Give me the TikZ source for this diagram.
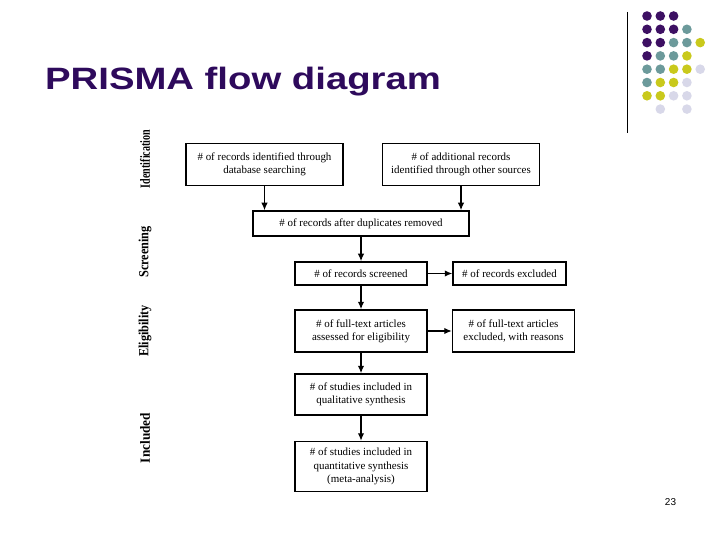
\documentclass[tikz,border=0pt]{standalone}
\usepackage{fontspec}
\setmainfont{Liberation Serif}
\newfontfamily\arialfont{Liberation Sans}
\usetikzlibrary{arrows.meta}
\definecolor{titlecol}{HTML}{2E0A5C}
\definecolor{dotP}{HTML}{3D1063}
\definecolor{dotT}{HTML}{6C9A9B}
\definecolor{dotY}{HTML}{C9C91C}
\definecolor{dotL}{HTML}{D8D8E9}
\tikzset{
  flowbox/.style={draw=black, line width=1.5bp, inner sep=0pt, align=center,
    font=\fontsize{11}{13.3}\selectfont},
  arr/.style={draw=black, line width=1.3bp, -{Latex[length=7.5bp,width=6.5bp]}},
  sidelabel/.style={rotate=90, inner sep=0pt, font=\fontsize{10.4}{12}\selectfont\bfseries},
  dot/.style={circle, inner sep=0pt, minimum size=9.6bp},
}
\begin{document}
\begin{tikzpicture}[x=1bp,y=-1bp]
\useasboundingbox (0,0) rectangle (720,540);
\fill[white] (0,0) rectangle (720,540);

% title
\node[anchor=base west, inner sep=0pt, text=titlecol] (title) at (45,90)
  {\scalebox{1.24}[1]{\arialfont\bfseries\fontsize{31}{31}\selectfont PRISMA flow diagram}};

% decoration line
\coordinate (lt) at (627,12);
\coordinate (lb) at (627,133);
\draw[line width=1bp] (lt) -- (lb);

% dots
\foreach \r/\cols in {1/{P,P,P},2/{P,P,P,T},3/{P,P,T,T,Y},4/{P,T,T,Y},5/{T,T,Y,Y,L},6/{T,Y,Y,L},7/{Y,Y,L,L}}{
  \foreach \c [count=\i] in \cols {
    \node[dot, fill=dot\c] (d\r-\i) at ({647+13.3*(\i-1)},{16+13.3*(\r-1)}) {};
  }
}
\node[dot, fill=dotL] (d8-2) at (660.3,109.1) {};
\node[dot, fill=dotL] (d8-4) at (686.9,109.1) {};

% side labels
\node[sidelabel] (lid) at (145,159) {\scalebox{0.97}[1.35]{Identification}};
\node[sidelabel] (lsc) at (145,252) {\scalebox{1.18}[1.35]{Screening}};
\node[sidelabel] (lel) at (145,331) {\scalebox{1.18}[1.35]{Eligibility}};
\node[sidelabel] (lin) at (145,438) {\scalebox{1.28}[1.35]{Included}};

% boxes
\node[flowbox, minimum width=157bp, minimum height=42bp] (A) at (264.5,164.5)
  {\# of records identified through\\database searching};
\node[flowbox, minimum width=157bp, minimum height=42bp] (B) at (461,164.5)
  {\# of additional records\\identified through other sources};
\node[flowbox, minimum width=216bp, minimum height=25bp] (C) at (361,223.5)
  {\# of records after duplicates removed};
\node[flowbox, minimum width=132bp, minimum height=23bp] (D) at (361,273.5)
  {\# of records screened};
\node[flowbox, minimum width=113bp, minimum height=23bp] (E) at (509.5,273.5)
  {\# of records excluded};
\node[flowbox, minimum width=132bp, minimum height=42bp] (F) at (361,331)
  {\# of full-text articles\\assessed for eligibility};
\node[flowbox, minimum width=122bp, minimum height=42bp] (G) at (513.5,331)
  {\# of full-text articles\\excluded, with reasons};
\node[flowbox, minimum width=132bp, minimum height=41bp] (H) at (361,394.5)
  {\# of studies included in\\qualitative synthesis};
\node[flowbox, minimum width=132bp, minimum height=50bp] (I) at (361,466.5)
  {\# of studies included in\\quantitative synthesis\\(meta-analysis)};

% connectors
\draw[arr] (A.south) -- (A.south |- C.north);
\draw[arr] (B.south) -- (B.south |- C.north);
\draw[arr] (C.south) -- (D.north);
\draw[arr] (D.east) -- (E.west);
\draw[arr] (D.south) -- (F.north);
\draw[arr] (F.east) -- (G.west);
\draw[arr] (F.south) -- (H.north);
\draw[arr] (H.south) -- (I.north);

% page number
\node[anchor=base, inner sep=0pt, font=\arialfont\fontsize{10}{10}\selectfont] (pg) at (670.5,505) {23};
\end{tikzpicture}
\end{document}
